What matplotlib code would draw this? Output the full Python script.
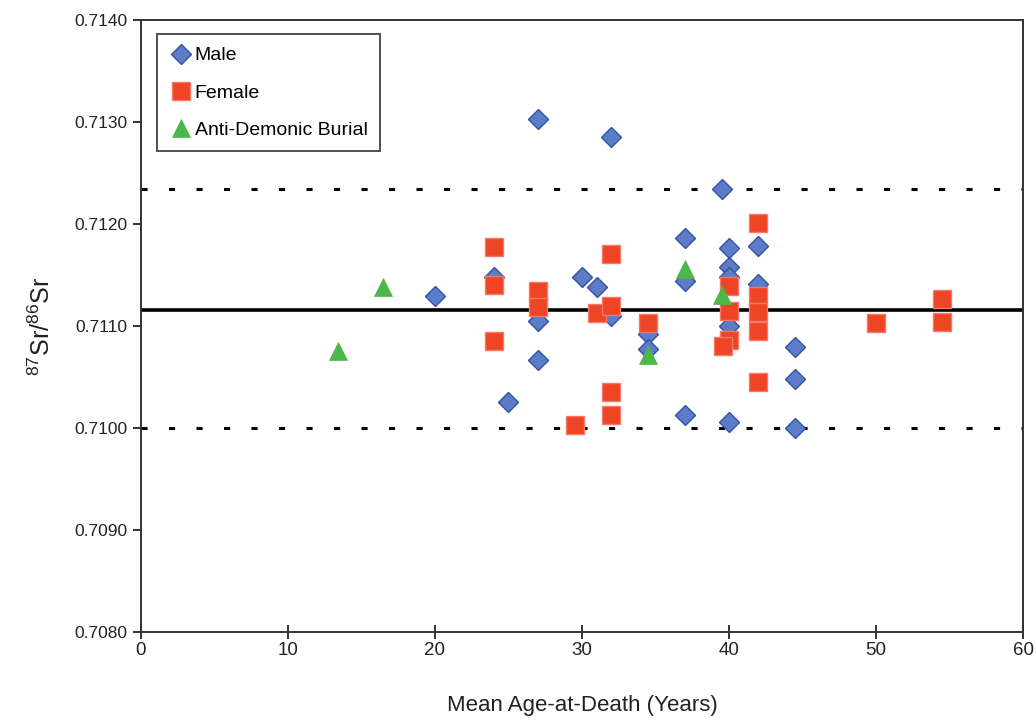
import matplotlib
matplotlib.use('Agg')
import matplotlib.pyplot as plt

# mean age-at-death (years) and 87Sr/86Sr ratio per group
male_age = [20, 24, 25, 27, 27, 27, 30, 31, 32, 32, 34.5, 34.5, 37, 37, 37,
            39.5, 40, 40, 40, 40, 40, 42, 42, 44.5, 44.5, 44.5]
male_sr = [0.71129, 0.71148, 0.71026, 0.71303, 0.71105, 0.71067, 0.71148,
           0.71138, 0.71285, 0.71110, 0.71092, 0.71078, 0.71186, 0.71144,
           0.71013, 0.71234, 0.71177, 0.71158, 0.71148, 0.71100, 0.71006,
           0.71179, 0.71141, 0.71079, 0.71048, 0.71000]

female_age = [24, 24, 24, 27, 27, 29.5, 31, 32, 32, 32, 32, 34.5, 40, 40, 40,
              39.6, 42, 42, 42, 42, 42, 50, 54.5, 54.5]
female_sr = [0.71178, 0.71140, 0.71085, 0.71134, 0.71119, 0.71003, 0.71113,
             0.71171, 0.71120, 0.71035, 0.71013, 0.71103, 0.71139, 0.71115,
             0.71086, 0.71080, 0.71201, 0.71129, 0.71114, 0.71095, 0.71045,
             0.71103, 0.71127, 0.71104]

burial_age = [13.4, 16.5, 34.5, 37, 39.5]
burial_sr = [0.71076, 0.71138, 0.71072, 0.71156, 0.71130]

mean_sr = 0.711155
upper_sr = 0.71234
lower_sr = 0.71000

plt.rcParams['font.family'] = ['Liberation Sans', 'DejaVu Sans']
plt.rcParams['mathtext.fontset'] = 'custom'
plt.rcParams['mathtext.rm'] = 'Liberation Sans'

fig = plt.figure(figsize=(10.36, 7.19), dpi=100)
ax = fig.add_axes([0.136, 0.121, 0.8515, 0.851])

ax.axhline(mean_sr, color='black', lw=2.6, zorder=1)
ax.axhline(upper_sr, color='black', lw=2.2, dashes=(2.0, 7.0), zorder=1)
ax.axhline(lower_sr, color='black', lw=2.2, dashes=(2.0, 7.0), zorder=1)

ax.plot(male_age, male_sr, 'D', ms=10, mfc='#5b7cc6', mec='#3552a8', mew=1.0,
        ls='none', label='Male', zorder=3)
ax.plot(female_age, female_sr, 's', ms=13, mfc='#ee4524', mec='#f5786a', mew=1.0,
        ls='none', label='Female', zorder=4)
ax.plot(burial_age, burial_sr, '^', ms=13, mfc='#4cb847', mec='#4cb847', mew=0.5,
        ls='none', label='Anti-Demonic Burial', zorder=5)

ax.set_xlim(0, 60)
ax.set_ylim(0.7080, 0.7140)
ax.set_xticks(range(0, 61, 10))
ax.set_yticks([0.7080, 0.7090, 0.7100, 0.7110, 0.7120, 0.7130, 0.7140])
ax.set_yticklabels(['%.4f' % v for v in ax.get_yticks()])
ax.tick_params(axis='y', direction='out', length=6, width=1.3, labelsize=12.5,
               colors='#222222')
ax.tick_params(axis='x', direction='inout', length=10, width=1.3, labelsize=13.5,
               colors='#222222', pad=2)
for s in ax.spines.values():
    s.set_linewidth(1.4)
    s.set_color('#333333')

ax.set_xlabel('Mean Age-at-Death (Years)', fontsize=16, labelpad=26, color='#222222')
ax.set_ylabel(r'$\mathregular{^{87}}$Sr/$\mathregular{^{86}}$Sr', fontsize=18,
              labelpad=14, color='#222222')

leg = ax.legend(loc='upper left', bbox_to_anchor=(0.018, 0.977), fontsize=14,
                frameon=True, fancybox=False, edgecolor='#222222',
                handletextpad=0.1, handlelength=1.2, labelspacing=1.0,
                borderpad=0.65, borderaxespad=0)
leg.get_frame().set_linewidth(1.4)

fig.savefig('out.png', dpi=100)
